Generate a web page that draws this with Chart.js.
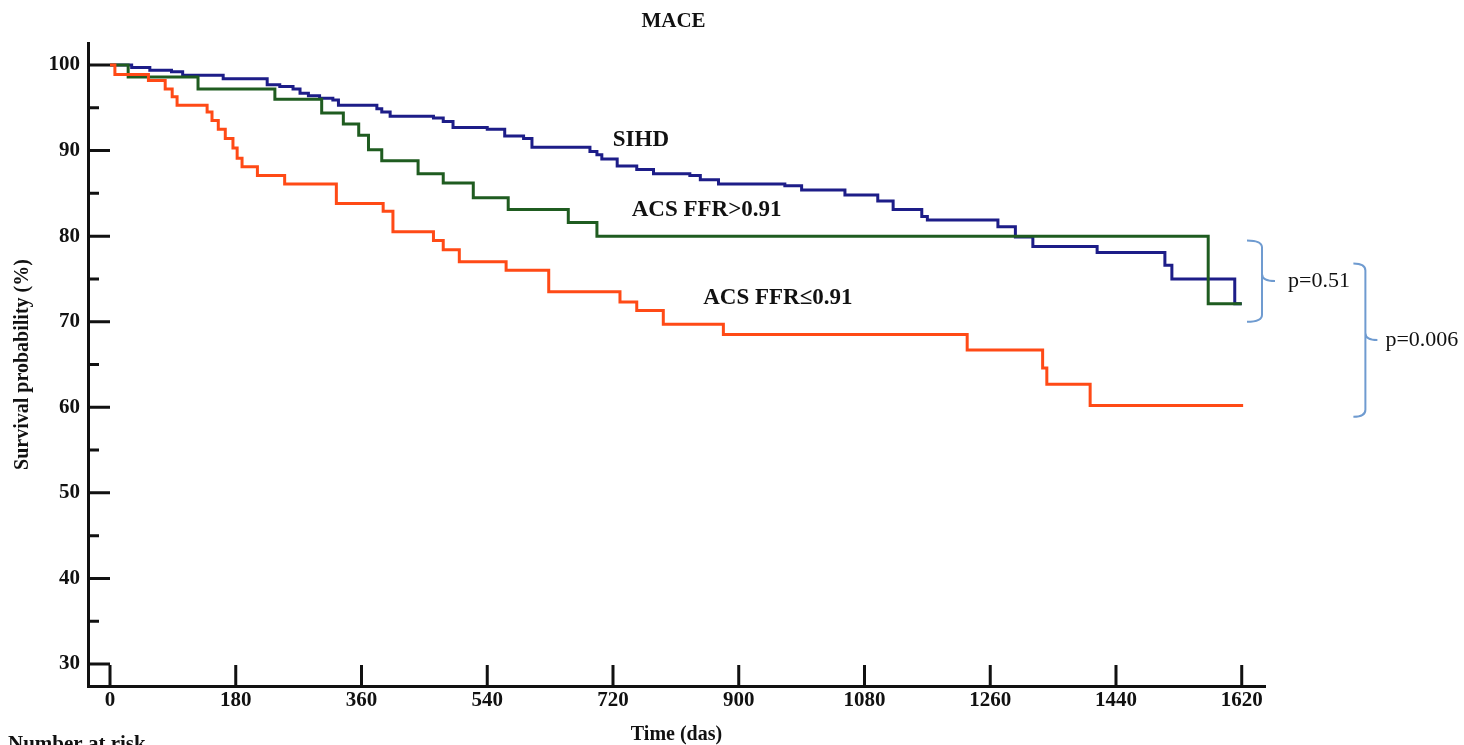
<!DOCTYPE html>
<html>
<head>
<meta charset="utf-8">
<title>MACE</title>
<script src="https://cdn.jsdelivr.net/npm/chart.js@4.4.1/dist/chart.umd.min.js"></script>
<style>
  html, body { margin: 0; padding: 0; background: #fff; }
  #wrap { width: 1464px; height: 745px; position: relative; }
</style>
</head>
<body>
<div id="wrap"><canvas id="kmChart"></canvas></div>
<script>
const dayTicks = [0, 180, 360, 540, 720, 900, 1080, 1260, 1440, 1620];
const survivalTicks = [30, 40, 50, 60, 70, 80, 90, 100];
const minorTicks = [35, 45, 55, 65, 75, 85, 95];

// Kaplan-Meier steps: day of each event and survival (%) after it
const sihdDays = [0, 31, 57, 88, 104, 162, 225, 243, 262, 272, 284, 300, 319, 327, 382, 389, 401, 463, 477, 491,
    540, 565, 592, 604, 687, 697, 704, 726, 754, 778, 830, 845, 871, 966, 990, 1052, 1099, 1121, 1162, 1170,
    1271, 1296, 1321, 1413, 1510, 1520, 1610, 1620];
const sihdSurvival = [100, 99.7, 99.4, 99.2, 98.8, 98.4, 97.7, 97.5, 97.2, 96.7, 96.4, 96.1, 95.9, 95.3, 94.9, 94.5, 94.0, 93.8, 93.4, 92.7,
    92.5, 91.7, 91.4, 90.4, 89.9, 89.5, 89.0, 88.2, 87.8, 87.3, 87.1, 86.6, 86.1, 85.9, 85.4, 84.8, 84.1, 83.1, 82.3, 81.9,
    81.1, 79.9, 78.8, 78.1, 76.6, 75.0, 72.1, 72.1];

const highFfrDays = [0, 26, 126, 236, 303, 334, 356, 370, 389, 441, 477, 520, 570, 656, 697, 1572, 1620];
const highFfrSurvival = [100, 98.6, 97.2, 96.0, 94.4, 93.1, 91.8, 90.1, 88.8, 87.3, 86.2, 84.5, 83.1, 81.6, 80.0, 72.1, 72.1];

const lowFfrDays = [0, 7, 55, 79, 89, 96, 139, 146, 155, 165, 176, 182, 189, 211, 250, 324, 391, 405, 463, 477,
    500, 567, 628, 730, 754, 792, 878, 1227, 1335, 1341, 1403, 1622];
const lowFfrSurvival = [100, 98.9, 98.2, 97.2, 96.3, 95.3, 94.5, 93.5, 92.5, 91.4, 90.3, 89.1, 88.1, 87.1, 86.1, 83.8, 82.9, 80.5, 79.5, 78.4,
    77.0, 76.0, 73.5, 72.3, 71.3, 69.7, 68.5, 66.7, 64.6, 62.7, 60.2, 60.2];

const seriesNames = ['ACS FFR\u22640.91', 'ACS FFR>0.91', 'SIHD'];
const pValues = ['p=0.51', 'p=0.006'];

const serif = "'Liberation Serif', 'Times New Roman', serif";
const ink = '#111111';

// where the curve names and p-value braces sit (in axis units)
const curveLabelSpots = [
    { day: 956, value: 72.8 },
    { day: 854, value: 83.1 },
    { day: 760, value: 91.2 }
];
const braceSpots = [
    { day: 1649, top: 79.5, bottom: 70.0, end: 15, tip: 13, textGap: 26 },
    { day: 1797, top: 76.8, bottom: 58.9, end: 12, tip: 12, textGap: 20 }
];

function toPoints(days, values) {
    return days.map((d, i) => ({ x: d, y: values[i] }));
}

function drawBrace(ctx, xSpine, xEnd, xTip, yTop, yBot) {
    const yMid = (yTop + yBot) / 2;
    const r = 7;
    ctx.beginPath();
    ctx.moveTo(xEnd, yTop);
    ctx.quadraticCurveTo(xSpine, yTop, xSpine, yTop + r);
    ctx.lineTo(xSpine, yMid - r);
    ctx.quadraticCurveTo(xSpine, yMid, xTip, yMid);
    ctx.moveTo(xSpine, yMid - r);
    ctx.quadraticCurveTo(xSpine, yMid, xSpine, yMid + r);
    ctx.lineTo(xSpine, yBot - r);
    ctx.quadraticCurveTo(xSpine, yBot, xEnd, yBot);
    ctx.stroke();
}

const kmExtras = {
    id: 'kmExtras',
    afterDraw(chart) {
        const { ctx, chartArea, scales: { x, y } } = chart;
        ctx.save();

        // inward tick marks
        ctx.strokeStyle = ink;
        ctx.lineWidth = 3;
        ctx.beginPath();
        dayTicks.forEach(d => {
            const px = x.getPixelForValue(d);
            ctx.moveTo(px, x.top);
            ctx.lineTo(px, x.top - 21);
        });
        survivalTicks.forEach(v => {
            const py = y.getPixelForValue(v);
            ctx.moveTo(y.right, py);
            ctx.lineTo(y.right + 22, py);
        });
        minorTicks.forEach(v => {
            const py = y.getPixelForValue(v);
            ctx.moveTo(y.right, py);
            ctx.lineTo(y.right + 11, py);
        });
        ctx.stroke();

        // title
        ctx.fillStyle = ink;
        ctx.textAlign = 'center';
        ctx.textBaseline = 'middle';
        ctx.font = `bold 21px ${serif}`;
        ctx.fillText('MACE', (chartArea.left + chartArea.right) / 2 - 3, 22);

        // curve names
        ctx.font = `bold 23px ${serif}`;
        curveLabelSpots.forEach((spot, i) => {
            ctx.fillText(seriesNames[i], x.getPixelForValue(spot.day), y.getPixelForValue(spot.value));
        });

        // p-value braces
        ctx.strokeStyle = '#6f9bd0';
        ctx.lineWidth = 2;
        ctx.font = `22px ${serif}`;
        ctx.textAlign = 'left';
        braceSpots.forEach((b, i) => {
            const xs = x.getPixelForValue(b.day);
            const yt = y.getPixelForValue(b.top);
            const yb = y.getPixelForValue(b.bottom);
            drawBrace(ctx, xs, xs - b.end, xs + b.tip, yt, yb);
            ctx.fillText(pValues[i], xs + b.textGap, (yt + yb) / 2);
        });

        // risk table heading, cut off by the bottom edge
        ctx.textBaseline = 'alphabetic';
        ctx.font = `bold 21px ${serif}`;
        ctx.fillText('Number at risk', 8, 750);

        ctx.restore();
    }
};

const lineStyle = {
    stepped: true,
    borderWidth: 3,
    pointRadius: 0,
    fill: false,
    borderJoinStyle: 'miter',
    borderCapStyle: 'butt'
};

const kmData = {
    datasets: [
        { ...lineStyle, label: seriesNames[0], borderColor: '#ff4a16', data: toPoints(lowFfrDays, lowFfrSurvival) },
        { ...lineStyle, label: seriesNames[1], borderColor: '#1f5c20', data: toPoints(highFfrDays, highFfrSurvival) },
        { ...lineStyle, label: seriesNames[2], borderColor: '#1d1d88', data: toPoints(sihdDays, sihdSurvival) }
    ]
};

const kmConfig = {
    type: 'line',
    data: kmData,
    options: {
        responsive: true,
        maintainAspectRatio: false,
        animation: false,
        layout: {
            padding: { top: 43, right: 199, left: 0, bottom: 0 }
        },
        plugins: {
            legend: { display: false },
            tooltip: { enabled: false }
        },
        scales: {
            x: {
                type: 'linear',
                min: -31.5,
                max: 1653.3,
                afterBuildTicks: scale => { scale.ticks = dayTicks.map(v => ({ value: v })); },
                afterFit: scale => { scale.height = 59; },
                grid: { display: true, drawOnChartArea: false, drawTicks: false },
                border: { display: true, width: 3, color: ink },
                ticks: {
                    padding: 2,
                    color: ink,
                    font: { family: serif, size: 21, weight: 'bold' },
                    maxRotation: 0,
                    callback: value => String(value)
                },
                title: {
                    display: true,
                    text: 'Time (das)',
                    color: ink,
                    font: { family: serif, size: 20, weight: 'bold' },
                    padding: { top: 0, bottom: -2 }
                }
            },
            y: {
                min: 27.43,
                max: 102.57,
                afterBuildTicks: scale => { scale.ticks = survivalTicks.map(v => ({ value: v })); },
                afterFit: scale => { scale.width = 88; },
                grid: { display: true, drawOnChartArea: false, drawTicks: false },
                border: { display: true, width: 3, color: ink },
                ticks: {
                    padding: 8,
                    color: ink,
                    font: { family: serif, size: 21, weight: 'bold' },
                    callback: value => String(value)
                },
                title: {
                    display: true,
                    text: 'Survival probability (%)',
                    color: ink,
                    font: { family: serif, size: 20, weight: 'bold' },
                    padding: { top: 11, bottom: 0 }
                }
            }
        }
    },
    plugins: [kmExtras]
};

const kmChart = new Chart(document.getElementById('kmChart'), kmConfig);
</script>
</body>
</html>
